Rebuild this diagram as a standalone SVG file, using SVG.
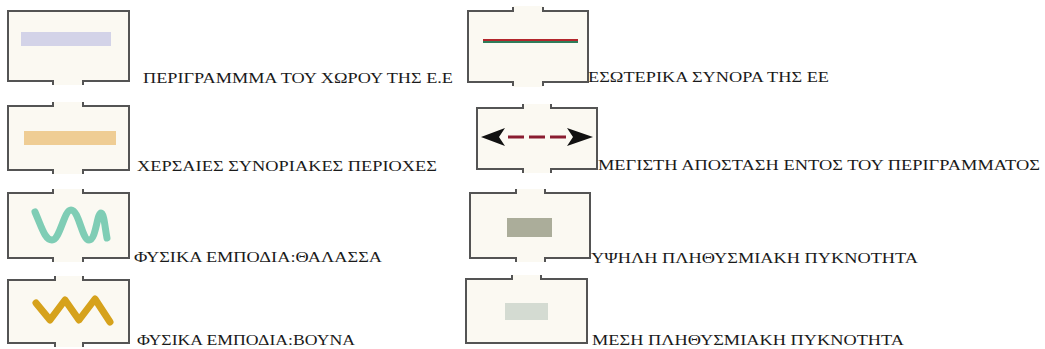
<svg xmlns="http://www.w3.org/2000/svg" width="1045" height="349" viewBox="0 0 1045 349">
<style>
.bg{fill:#fbf9f2}
.frame{fill:none;stroke:#545454;stroke-width:2}
.lbl{font-family:"Liberation Serif","Times New Roman",serif;font-size:15px;fill:#1a1a1a}
</style>
<rect width="1045" height="349" fill="#ffffff"/>
<g id="item-perigramma">
<rect class="bg" x="8" y="11" width="121" height="70"/>
<rect class="bg" x="53" y="81" width="30" height="4"/>
<path class="frame" d="M53,85 V81 H8 V11 H129 V81 H83 V85"/>
<rect x="21" y="32" width="90" height="14" fill="#d3d3e8"/>
<text class="lbl" x="143" y="83" textLength="310" lengthAdjust="spacingAndGlyphs">ΠΕΡΙΓΡΑΜΜΜΑ ΤΟΥ ΧΩΡΟΥ ΤΗΣ Ε.Ε</text>
</g>
<g id="item-esoterika">
<rect class="bg" x="468" y="11" width="120" height="71"/>
<rect class="bg" x="513" y="6" width="30" height="81"/>
<path class="frame" d="M513,7 V11 H468 V82 H513 V86 M543,86 V82 H588 V11 H543 V7"/>
<line x1="483" y1="40" x2="578" y2="40" stroke="#b3262c" stroke-width="2"/>
<line x1="483" y1="42" x2="578" y2="42" stroke="#2e7d5a" stroke-width="2"/>
<text class="lbl" x="588" y="82" textLength="241" lengthAdjust="spacingAndGlyphs">ΕΣΩΤΕΡΙΚΑ ΣΥΝΟΡΑ ΤΗΣ ΕΕ</text>
</g>
<g id="item-chersaies">
<rect class="bg" x="8" y="106" width="121" height="64"/>
<rect class="bg" x="53" y="102" width="30" height="72"/>
<path class="frame" d="M53,102 V106 H8 V170 H53 V174 M83,174 V170 H129 V106 H83 V102"/>
<rect x="24" y="131" width="92" height="14" fill="#efcd94"/>
<text class="lbl" x="137" y="171" textLength="300" lengthAdjust="spacingAndGlyphs">ΧΕΡΣΑΙΕΣ ΣΥΝΟΡΙΑΚΕΣ ΠΕΡΙΟΧΕΣ</text>
</g>
<g id="item-megisti">
<rect class="bg" x="477" y="108" width="120" height="61"/>
<rect class="bg" x="523" y="104" width="28" height="69"/>
<path class="frame" d="M523,104 V108 H477 V169 H523 V173 M551,173 V169 H597 V108 H551 V104"/>
<line x1="508" y1="137" x2="566" y2="137" stroke="#8a1c30" stroke-width="3" stroke-dasharray="16 5"/>
<polygon points="481,137 505,128 499,137 505,146" fill="#111"/>
<polygon points="593,137 567,128 573,137 567,146" fill="#111"/>
<text class="lbl" x="598" y="170" textLength="442" lengthAdjust="spacingAndGlyphs">ΜΕΓΙΣΤΗ ΑΠΟΣΤΑΣΗ ΕΝΤΟΣ ΤΟΥ ΠΕΡΙΓΡΑΜΜΑΤΟΣ</text>
</g>
<g id="item-thalassa">
<rect class="bg" x="8" y="193" width="121" height="65"/>
<rect class="bg" x="53" y="189" width="30" height="73"/>
<path class="frame" d="M53,189 V193 H8 V258 H53 V262 M83,262 V258 H129 V193 H83 V189"/>
<path d="M35,212 C42,228 45,240 52,240 C60,240 64,210 71,210 C79,210 82,240 89,240 C96,240 97,213 101,213 C104,213 105,228 107,238" fill="none" stroke="#7fcdb5" stroke-width="7" stroke-linecap="round" stroke-linejoin="round"/>
<text class="lbl" x="134" y="262" textLength="248" lengthAdjust="spacingAndGlyphs">ΦΥΣΙΚΑ ΕΜΠΟΔΙΑ:ΘΑΛΑΣΣΑ</text>
</g>
<g id="item-ypsili">
<rect class="bg" x="470" y="193" width="120" height="65"/>
<rect class="bg" x="516" y="189" width="29" height="73"/>
<path class="frame" d="M516,189 V193 H470 V258 H516 V262 M545,262 V258 H590 V193 H545 V189"/>
<rect x="507" y="218" width="45" height="19" fill="#abad9a"/>
<text class="lbl" x="591" y="263" textLength="327" lengthAdjust="spacingAndGlyphs">ΥΨΗΛΗ ΠΛΗΘΥΣΜΙΑΚΗ ΠΥΚΝΟΤΗΤΑ</text>
</g>
<g id="item-vouna">
<rect class="bg" x="8" y="280" width="121" height="63"/>
<rect class="bg" x="55" y="276" width="28" height="71"/>
<path class="frame" d="M55,276 V280 H8 V343 H55 V347 M83,347 V343 H129 V280 H83 V276"/>
<polyline points="36,303 50,320 65,300 79,320 95,299 110,322" fill="none" stroke="#d6a21c" stroke-width="7" stroke-linejoin="round" stroke-linecap="round"/>
<text class="lbl" x="137" y="345" textLength="218" lengthAdjust="spacingAndGlyphs">ΦΥΣΙΚΑ ΕΜΠΟΔΙΑ:ΒΟΥΝΑ</text>
</g>
<g id="item-mesi">
<rect class="bg" x="466" y="279" width="121" height="64"/>
<rect class="bg" x="512" y="275" width="29" height="4"/>
<path class="frame" d="M512,275 V279 H466 V343 H587 V279 H541 V275"/>
<rect x="505" y="303" width="43" height="17" fill="#d4dbd2"/>
<text class="lbl" x="592" y="345" textLength="312" lengthAdjust="spacingAndGlyphs">ΜΕΣΗ ΠΛΗΘΥΣΜΙΑΚΗ ΠΥΚΝΟΤΗΤΑ</text>
</g>
</svg>
